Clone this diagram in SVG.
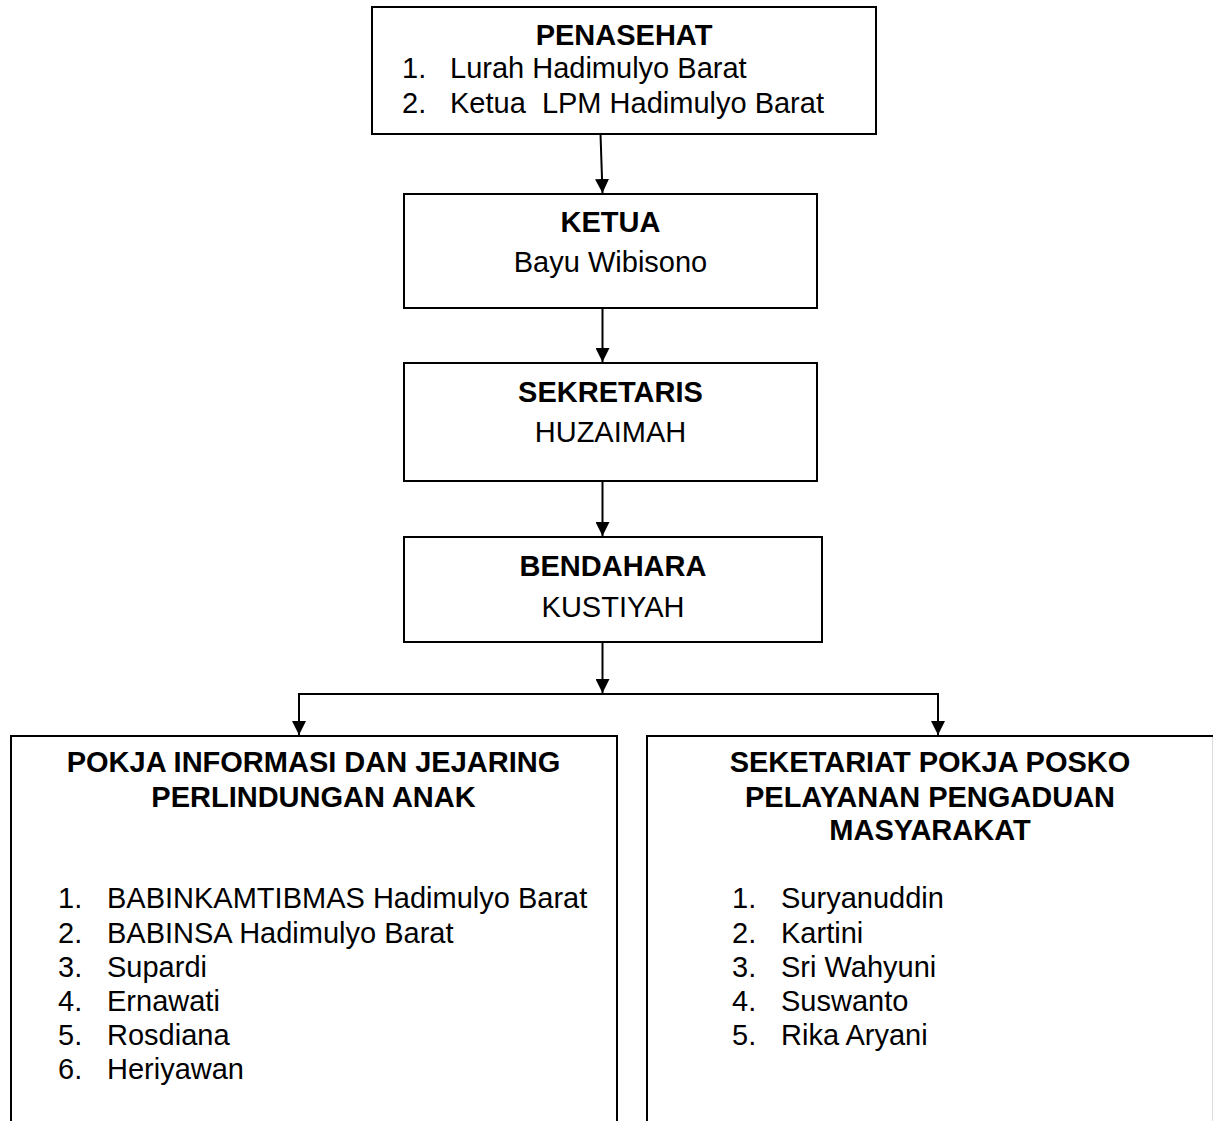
<svg xmlns="http://www.w3.org/2000/svg" width="1213" height="1121" viewBox="0 0 1213 1121">
<style>
.box{fill:#fff;stroke:#000;stroke-width:2}
.t{font-family:"Liberation Sans",Arial,sans-serif;font-size:29px;fill:#000}
.b{font-weight:bold}
.c{text-anchor:middle}
.ln{stroke:#000;stroke-width:2;fill:none}
</style>
<defs>
<marker id="ah" markerWidth="14" markerHeight="14" refX="14" refY="7" orient="auto" markerUnits="userSpaceOnUse"><path d="M0,0 L14,7 L0,14 z" fill="#000"/></marker>
</defs>
<rect width="1213" height="1121" fill="#fff"/>
<g id="connectors">
<line class="ln" x1="600.5" y1="134" x2="602.5" y2="193" marker-end="url(#ah)"/>
<line class="ln" x1="602.5" y1="308" x2="602.5" y2="362" marker-end="url(#ah)"/>
<line class="ln" x1="602.5" y1="481" x2="602.5" y2="536" marker-end="url(#ah)"/>
<line class="ln" x1="602.5" y1="642" x2="602.5" y2="693" marker-end="url(#ah)"/>
<polyline class="ln" points="299,735 299,694 938,694 938,735"/>
<line class="ln" x1="299" y1="694" x2="299" y2="735" marker-end="url(#ah)"/>
<line class="ln" x1="938" y1="694" x2="938" y2="735" marker-end="url(#ah)"/>
</g>
<g id="penasehat">
<rect class="box" x="372" y="7" width="504" height="127"/>
<text class="t b c" x="624" y="45">PENASEHAT</text>
<text class="t" x="402" y="78">1.</text><text class="t" x="450" y="78">Lurah Hadimulyo Barat</text>
<text class="t" x="402" y="113">2.</text><text class="t" x="450" y="113" xml:space="preserve">Ketua  LPM Hadimulyo Barat</text>
</g>
<g id="ketua">
<rect class="box" x="404" y="194" width="413" height="114"/>
<text class="t b c" x="610.5" y="232">KETUA</text>
<text class="t c" x="610.5" y="272">Bayu Wibisono</text>
</g>
<g id="sekretaris">
<rect class="box" x="404" y="363" width="413" height="118"/>
<text class="t b c" x="610.5" y="402">SEKRETARIS</text>
<text class="t c" x="610.5" y="442">HUZAIMAH</text>
</g>
<g id="bendahara">
<rect class="box" x="404" y="537" width="418" height="105"/>
<text class="t b c" x="613" y="576">BENDAHARA</text>
<text class="t c" x="613" y="617">KUSTIYAH</text>
</g>
<g id="pokja-informasi">
<path class="ln" d="M11,1121 V736 H617 V1121"/>
<text class="t b c" x="313.5" y="772">POKJA INFORMASI DAN JEJARING</text>
<text class="t b c" x="313.5" y="807">PERLINDUNGAN ANAK</text>
<text class="t" x="58" y="908">1.</text><text class="t" x="107" y="908">BABINKAMTIBMAS Hadimulyo Barat</text>
<text class="t" x="58" y="943">2.</text><text class="t" x="107" y="943">BABINSA Hadimulyo Barat</text>
<text class="t" x="58" y="977">3.</text><text class="t" x="107" y="977">Supardi</text>
<text class="t" x="58" y="1011">4.</text><text class="t" x="107" y="1011">Ernawati</text>
<text class="t" x="58" y="1045">5.</text><text class="t" x="107" y="1045">Rosdiana</text>
<text class="t" x="58" y="1079">6.</text><text class="t" x="107" y="1079">Heriyawan</text>
</g>
<g id="sekretariat-pokja">
<path class="ln" d="M647,1121 V736 H1213"/>
<line x1="1212.5" y1="737" x2="1212.5" y2="1121" stroke="#ddd" stroke-width="1"/>
<text class="t b c" x="930" y="772">SEKETARIAT POKJA POSKO</text>
<text class="t b c" x="930" y="807">PELAYANAN PENGADUAN</text>
<text class="t b c" x="930" y="840">MASYARAKAT</text>
<text class="t" x="732" y="908">1.</text><text class="t" x="781" y="908">Suryanuddin</text>
<text class="t" x="732" y="943">2.</text><text class="t" x="781" y="943">Kartini</text>
<text class="t" x="732" y="977">3.</text><text class="t" x="781" y="977">Sri Wahyuni</text>
<text class="t" x="732" y="1011">4.</text><text class="t" x="781" y="1011">Suswanto</text>
<text class="t" x="732" y="1045">5.</text><text class="t" x="781" y="1045">Rika Aryani</text>
</g>
</svg>
